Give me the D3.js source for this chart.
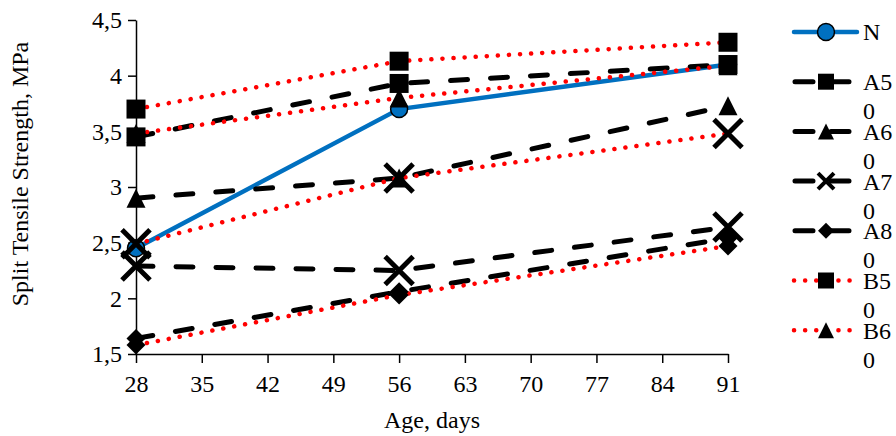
<!DOCTYPE html>
<html>
<head>
<meta charset="utf-8">
<script src="https://cdn.jsdelivr.net/npm/d3@7"></script>
<style>
  body { margin: 0; background: #fff; }
  text { font-family: "Liberation Serif", "Times New Roman", serif; fill: #000; }
</style>
</head>
<body>
<svg id="chart" width="896" height="436"></svg>
<script>
// ages in days and split tensile strength (MPa)
let days = [28, 56, 91];
let xTicks = [28, 35, 42, 49, 56, 63, 70, 77, 84, 91];
let yTicks = [1.5, 2, 2.5, 3, 3.5, 4, 4.5];

let N   = [2.45, 3.70, 4.10];
let A50 = [3.45, 3.93, 4.10];
let A60 = [2.90, 3.08, 3.73];
let A70 = [2.29, 2.25, 2.64];
let A80 = [1.64, 2.06, 2.54];
let B50 = [3.70, 4.13, 4.30];
let B60 = [3.48, 3.80, 4.09];
let B70 = [2.49, 3.08, 3.48];
let B80 = [1.58, 2.03, 2.47];

let seriesNames = ["N", "A50", "A60", "A70", "A80", "B50", "B60", "B70", "B80"];
let seriesValues = [N, A50, A60, A70, A80, B50, B60, B70, B80];
let seriesMarker = ["circle", "square", "triangle", "x", "diamond", "square", "triangle", "x", "diamond"];
let seriesStyle = ["solid", "dash", "dash", "dash", "dash", "dot", "dot", "dot", "dot"];

var width = 896, height = 436;
var svg = d3.select("#chart");

var x = d3.scaleLinear().domain([28, 91]).range([136, 728]);
var y = d3.scaleLinear().domain([1.5, 4.5]).range([354, 20]);

function lineStyle(sel, style) {
    if (style == "solid") {
        sel.attr("stroke", "#0070C0").attr("stroke-width", 4.5);
    } else if (style == "dash") {
        sel.attr("stroke", "#000").attr("stroke-width", 5)
            .attr("stroke-dasharray", "17,23").attr("stroke-linecap", "round");
    } else {
        sel.attr("stroke", "#ff0000").attr("stroke-width", 4.5)
            .attr("stroke-dasharray", "0.1,11").attr("stroke-linecap", "round");
    }
    return sel;
}

// marker shapes, s = full size in px
function markerPath(type, s) {
    var h = s / 2;
    if (type == "square") return "M" + (-h) + "," + (-h) + "h" + s + "v" + s + "h" + (-s) + "Z";
    if (type == "triangle") return "M0," + (-h) + "L" + h + "," + h + "L" + (-h) + "," + h + "Z";
    if (type == "diamond") return "M0," + (-h) + "L" + h + ",0L0," + h + "L" + (-h) + ",0Z";
    if (type == "x") return "M" + (-h) + "," + (-h) + "L" + h + "," + h + "M" + h + "," + (-h) + "L" + (-h) + "," + h;
    return "";
}

function drawMarker(g, type, cx, cy, s) {
    if (type == "circle") {
        g.append("circle").attr("cx", cx).attr("cy", cy).attr("r", s / 2)
            .attr("fill", "#0070C0").attr("stroke", "#000").attr("stroke-width", 1.5);
    } else if (type == "x") {
        g.append("path").attr("d", markerPath(type, s))
            .attr("transform", "translate(" + cx + "," + cy + ")")
            .attr("fill", "none").attr("stroke", "#000").attr("stroke-width", s > 20 ? 5 : 4);
    } else {
        g.append("path").attr("d", markerPath(type, s))
            .attr("transform", "translate(" + cx + "," + cy + ")")
            .attr("fill", "#000");
    }
}

// axes
var xAxis = d3.axisBottom(x).tickValues(xTicks).tickSize(9).tickSizeOuter(0).tickPadding(6);
var yAxis = d3.axisLeft(y).tickValues(yTicks).tickSize(8).tickSizeOuter(0).tickPadding(6)
    .tickFormat(function (d) { return String(d).replace(".", ","); });

var gx = svg.append("g").attr("transform", "translate(0,354)").call(xAxis);
var gy = svg.append("g").attr("transform", "translate(136,0)").call(yAxis);
[gx, gy].forEach(function (g) {
    g.attr("font-family", null);
    g.select(".domain").attr("stroke", "#000").attr("stroke-width", 1.5);
    g.selectAll(".tick line").attr("stroke", "#000").attr("stroke-width", 1.5);
    g.selectAll(".tick text").style("font-size", "24px").style("font-family", "Liberation Serif");
});
gx.selectAll(".tick text").attr("dy", "0.95em");

// lines
var line = d3.line().x(function (d, i) { return x(days[i]); }).y(function (d) { return y(d); });
var linesG = svg.append("g");
seriesValues.forEach(function (vals, k) {
    lineStyle(linesG.append("path").datum(vals).attr("d", line).attr("fill", "none"), seriesStyle[k]);
});

// markers: N at the bottom, later ones underneath earlier ones
var markG = svg.append("g");
var order = [0, 8, 7, 6, 5, 4, 3, 2, 1];
order.forEach(function (k) {
    seriesValues[k].forEach(function (v, i) {
        var s = seriesMarker[k] == "x" ? 28 : (seriesMarker[k] == "circle" ? 17 : 19);
        drawMarker(markG, seriesMarker[k], x(days[i]), y(v), s);
    });
});

// axis titles
svg.append("text")
    .attr("transform", "translate(28,174) rotate(-90)")
    .attr("text-anchor", "middle")
    .style("font-size", "24px")
    .text("Split Tensile Strength, MPa");
svg.append("text")
    .attr("x", 432).attr("y", 428)
    .attr("text-anchor", "middle")
    .style("font-size", "24px")
    .text("Age, days");

// legend (narrow box, labels wrap and the last entries don't fit, like the original)
var legend = svg.append("g");
var legendTop = 32, legendStep = 49.7, maxTextW = 896 - 863;
seriesNames.slice(0, 7).forEach(function (name, k) {
    var cy = legendTop + k * legendStep;
    var row = legend.append("g");
    var ln = row.append("line").attr("x1", 794).attr("x2", 857).attr("y1", cy).attr("y2", cy);
    lineStyle(ln, seriesStyle[k]);
    if (seriesStyle[k] == "dash") ln.attr("stroke-dasharray", "18,18").attr("stroke-dashoffset", -1);
    if (seriesStyle[k] == "solid") ln.attr("stroke-linecap", "round");
    drawMarker(row, seriesMarker[k], 826, cy, seriesMarker[k] == "circle" ? 17 : 16);

    var t = row.append("text").attr("x", 863).attr("y", cy).attr("dy", "0.35em").style("font-size", "24px");
    var chars = name.split(""), lineTxt = "";
    var tspan = t.append("tspan").attr("x", 863);
    chars.forEach(function (c) {
        tspan.text(lineTxt + c);
        if (tspan.node().getComputedTextLength() > maxTextW && lineTxt.length > 0) {
            tspan.text(lineTxt);
            lineTxt = c;
            tspan = t.append("tspan").attr("x", 863).attr("dy", 29).text(c);
        } else {
            lineTxt += c;
        }
    });
});
</script>
</body>
</html>
